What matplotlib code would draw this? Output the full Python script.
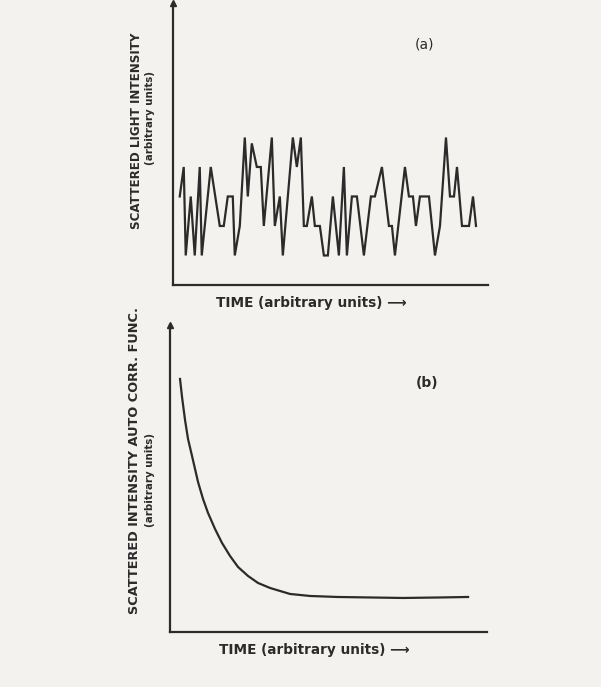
"""Two-panel sketch: fluctuating scattered intensity (a) and its autocorrelation (b)."""

import matplotlib

matplotlib.use("Agg")

import matplotlib.pyplot as plt  # noqa: E402

# Panel (a): scattered light intensity vs time (arbitrary units)
trace_time = [7, 11, 13, 18, 22, 27, 29, 38, 47, 51, 55, 60, 62, 67, 72, 75,
              79, 84, 88, 91, 99, 102, 107, 110, 120, 124, 128, 131, 134, 139,
              142, 147, 151, 155, 160, 166, 171, 174, 179, 184, 191, 198, 202,
              209, 216, 219, 222, 232, 236, 240, 243, 247, 256, 262, 267, 273,
              277, 281, 284, 289, 296, 300, 303]
trace_intensity = [3, 4, 1, 3, 1, 4, 1, 4, 2, 2, 3, 3, 1, 2, 5, 3,
                   4.8, 4, 4, 2, 5, 2, 3, 1, 5, 4, 5, 2, 2, 3,
                   2, 2, 1, 1, 3, 1, 4, 1, 3, 3, 1, 3, 3,
                   4, 2, 2, 1, 4, 3, 3, 2, 3, 3, 1, 2, 5,
                   3, 3, 4, 2, 2, 3, 2]

# Panel (b): autocorrelation function vs lag time (arbitrary units)
acf_time = [10, 12, 15, 18, 22, 25, 28, 33, 38, 45, 52, 60, 68, 78, 88,
            100, 110, 120, 140, 167, 200, 233, 270, 298]
acf_value = [253, 235, 212, 193, 176, 163, 150, 133, 119, 103, 89, 76, 65,
             56, 49, 44, 41, 38, 36, 35, 34.5, 34, 34.5, 35]

INK = "#2b2b2b"
PAPER = "#f4f2ee"
plt.rcParams["font.family"] = ["DejaVu Sans"]

fig = plt.figure(figsize=(6.01, 6.87), dpi=100, facecolor=PAPER)


def _frame(ax, xmax, ymax):
    ax.set_facecolor("none")
    ax.set_xlim(0, xmax)
    ax.set_ylim(0, ymax)
    for side in ("top", "right"):
        ax.spines[side].set_visible(False)
    for side in ("left", "bottom"):
        ax.spines[side].set_color(INK)
        ax.spines[side].set_linewidth(1.6)
    ax.set_xticks([])
    ax.set_yticks([])
    # arrowhead on top of the vertical axis
    ax.plot(0, 1, marker="^", color=INK, markersize=4.5, transform=ax.transAxes,
            clip_on=False)


# ---- panel (a)
ax_a = fig.add_axes([0.2874, 0.5852, 0.5246, 0.4105])
_frame(ax_a, 315, 9.56)
ax_a.plot(trace_time, trace_intensity, color=INK, lw=1.6, solid_joinstyle="miter")
ax_a.text(0.8, 0.853, "(a)", transform=ax_a.transAxes, ha="center", va="center",
          fontsize=10, color=INK)

# ---- panel (b)
ax_b = fig.add_axes([0.2829, 0.0801, 0.5275, 0.4469])
_frame(ax_b, 317, 307)
ax_b.plot(acf_time, acf_value, color=INK, lw=1.6)
ax_b.text(0.81, 0.81, "(b)", transform=ax_b.transAxes, ha="center", va="center",
          fontsize=10, fontweight="bold", color=INK)

# ---- axis titles, placed in figure pixels
W, H = 601, 687


def _fig_text(x, y, s, **kw):
    fig.text(x / W, 1 - y / H, s, color=INK, ha="center", va="center", **kw)


_fig_text(137, 131, "SCATTERED LIGHT INTENSITY", rotation=90, fontsize=8.6,
          fontweight="bold")
_fig_text(150, 118, "(arbitrary units)", rotation=90, fontsize=7.4, fontweight="bold")
_fig_text(311, 303, "TIME (arbitrary units) \u27f6", fontsize=9.8, fontweight="bold")

_fig_text(135, 460, "SCATTERED INTENSITY AUTO CORR. FUNC.", rotation=90,
          fontsize=9.3, fontweight="bold")
_fig_text(150, 480, "(arbitrary units)", rotation=90, fontsize=7.4, fontweight="bold")
_fig_text(314, 650, "TIME (arbitrary units) \u27f6", fontsize=9.8, fontweight="bold")

fig.savefig("out.png", dpi=100, facecolor=PAPER)
plt.close(fig)
